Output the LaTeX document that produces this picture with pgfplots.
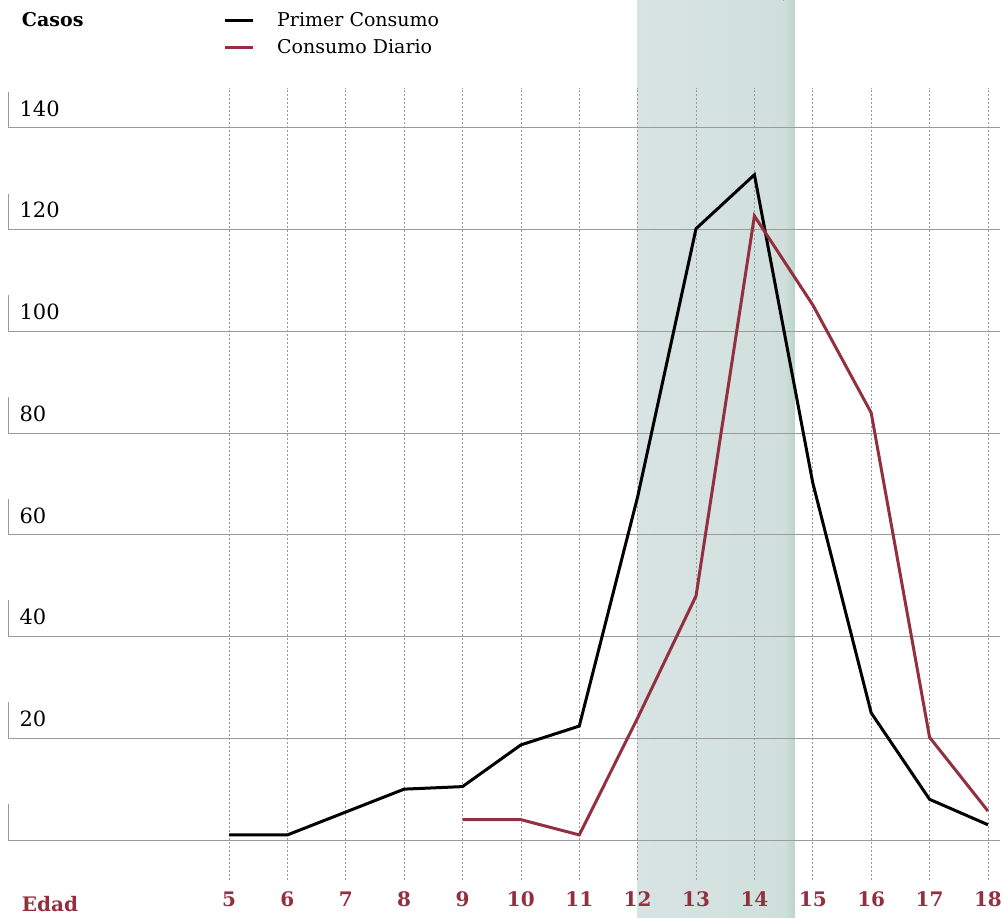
\documentclass[border=0pt]{standalone}
\usepackage{pgfplots}
\pgfplotsset{compat=1.18}
\usepackage{fontspec}
\setmainfont{DejaVu Serif}
\definecolor{vino}{HTML}{93303F}
\definecolor{bandL}{HTML}{D8E4E3}
\definecolor{bandM}{HTML}{D0DFDC}
\definecolor{bandE}{HTML}{B9D5CB}
\definecolor{gridc}{HTML}{9A9A9A}
\begin{document}
\begin{tikzpicture}
\begin{axis}[
  width=1002pt, height=917pt, scale only axis,
  xmin=1.0774, xmax=18.241, ymin=-15.14, ymax=165.16,
  axis lines=none, clip=false,
]
\path (axis cs:1.0774,-15.14) rectangle (axis cs:18.241,165.16);
% band
\fill[left color=bandL, right color=bandM] (axis cs:11.99,-15.14) rectangle (axis cs:14.5,165.16);
\fill[left color=bandM, right color=bandE] (axis cs:14.5,-15.14) rectangle (axis cs:14.695,165.16);
% vertical dotted grid
\pgfplotsinvokeforeach{5,...,18}{
  \draw[gridc, line width=0.8pt, dash pattern=on 2pt off 2pt] (axis cs:#1,-7.9) -- (axis cs:#1,147.9);
  \node[anchor=base, inner sep=0pt, font=\fontsize{20}{20}\selectfont\bfseries, text=vino] at (axis cs:#1,-13.0) {#1};
}
% horizontal grid + brackets
\pgfplotsinvokeforeach{0,20,...,140}{
  \draw[gridc, line width=1pt] (axis cs:1.215,#1) -- (axis cs:18.21,#1);
  \draw[gridc, line width=1pt] (axis cs:1.215,#1) -- (axis cs:1.215,#1+7.1);
}
\pgfplotsinvokeforeach{20,40,...,140}{
  \node[anchor=base west, inner sep=0pt, font=\fontsize{21}{21}\selectfont] at (axis cs:1.41,#1+2.3) {#1};
}
\node[anchor=base west, inner sep=0pt, font=\fontsize{19}{19}\selectfont\bfseries] at (axis cs:1.45,159.9) {Casos};
\node[anchor=base west, inner sep=0pt, font=\fontsize{20}{20}\selectfont\bfseries, text=vino] at (axis cs:1.45,-14.0) {Edad};
% legend
\draw[black, line width=3pt] (axis cs:4.931,161.2) -- (axis cs:5.411,161.2);
\node[anchor=base west, inner sep=0pt, font=\fontsize{19}{19}\selectfont] at (axis cs:5.822,160.0) {Primer Consumo};
\draw[vino, line width=3pt] (axis cs:4.931,155.9) -- (axis cs:5.411,155.9);
\node[anchor=base west, inner sep=0pt, font=\fontsize{19}{19}\selectfont] at (axis cs:5.822,154.7) {Consumo Diario};
\addplot[black, line width=3pt] coordinates {
(5,1) (6,1) (7,5.5) (8,10) (9,10.5) (10,18.7) (11,22.4) (12,67.5) (13,120.2) (14,130.8) (15,70.2) (16,25) (17,8) (18,3)};
\addplot[vino, line width=3pt] coordinates {
(9,4) (10,4) (11,1) (12,24) (13,48) (14,122.7) (15,105.2) (16,84) (17,20.2) (18,5.7)};
\end{axis}
\end{tikzpicture}
\end{document}
